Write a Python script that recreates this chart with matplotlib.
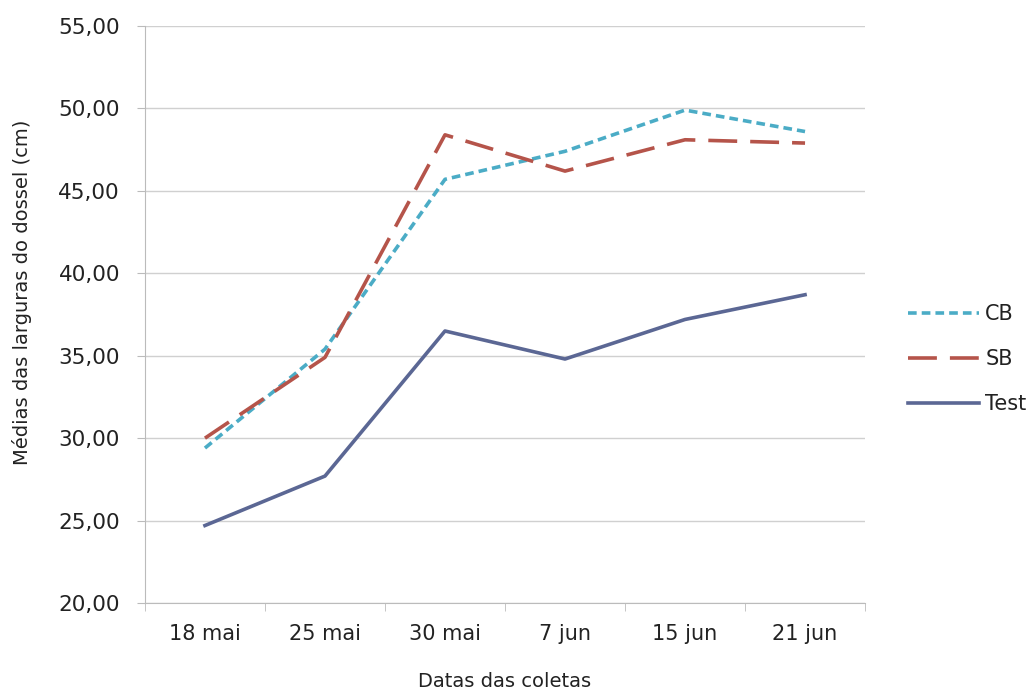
import numpy as np
import matplotlib.pyplot as plt
from matplotlib.ticker import FixedLocator, FuncFormatter

plt.rcParams['font.family'] = ['DejaVu Sans']

# data
datas = ["18 mai", "25 mai", "30 mai", "7 jun", "15 jun", "21 jun"]
cb = [29.4, 35.4, 45.7, 47.4, 49.9, 48.6]
sb = [30.0, 34.9, 48.4, 46.2, 48.1, 47.9]
test = [24.7, 27.7, 36.5, 34.8, 37.2, 38.7]

x = np.arange(len(datas))

fig = plt.figure(figsize=(10.34, 6.92), dpi=100)
ax = fig.add_axes([0.1402, 0.1286, 0.6964, 0.8338])

ax.plot(x, cb, color="#4bacc6", lw=2.6, dashes=(2.4, 1.4), label="CB")
ax.plot(x, sb, color="#b5544a", lw=2.6, dashes=(8, 3.6), label="SB")
ax.plot(x, test, color="#5b6794", lw=2.6, label="Test")

ax.set_xlim(-0.5, len(datas) - 0.5)
ax.set_ylim(20, 55)
ax.set_yticks(np.arange(20, 56, 5))
ax.yaxis.set_major_formatter(FuncFormatter(lambda v, p: f"{v:.2f}".replace(".", ",")))
ax.set_xticks(x)
ax.set_xticklabels(datas)
ax.xaxis.set_minor_locator(FixedLocator(np.arange(-0.5, len(datas), 1)))
ax.tick_params(axis="x", which="major", length=0, labelsize=15, pad=15, labelcolor="#222222")
ax.tick_params(axis="x", which="minor", length=6, color="#bbbbbb", direction="out")
ax.tick_params(axis="y", length=6, color="#bbbbbb", labelsize=15.5, pad=12, labelcolor="#222222")

ax.grid(axis="y", color="#d0d0d0", lw=1)
ax.set_axisbelow(True)
for s in ["top", "right"]:
    ax.spines[s].set_visible(False)
for s in ["left", "bottom"]:
    ax.spines[s].set_color("#bbbbbb")

ax.set_xlabel("Datas das coletas", fontsize=14, labelpad=20, color="#222222")
ax.set_ylabel("Médias das larguras do dossel (cm)", fontsize=14, color="#222222")
ax.yaxis.set_label_coords(-0.157, 0.539)

leg = ax.legend(loc="center left", bbox_to_anchor=(1.06, 0.423), frameon=False,
                fontsize=15, handlelength=3.4, handletextpad=0.3, labelspacing=1.2,
                borderaxespad=0, borderpad=0)
for t in leg.get_texts():
    t.set_color("#222222")

fig.savefig("out.png", dpi=100)
